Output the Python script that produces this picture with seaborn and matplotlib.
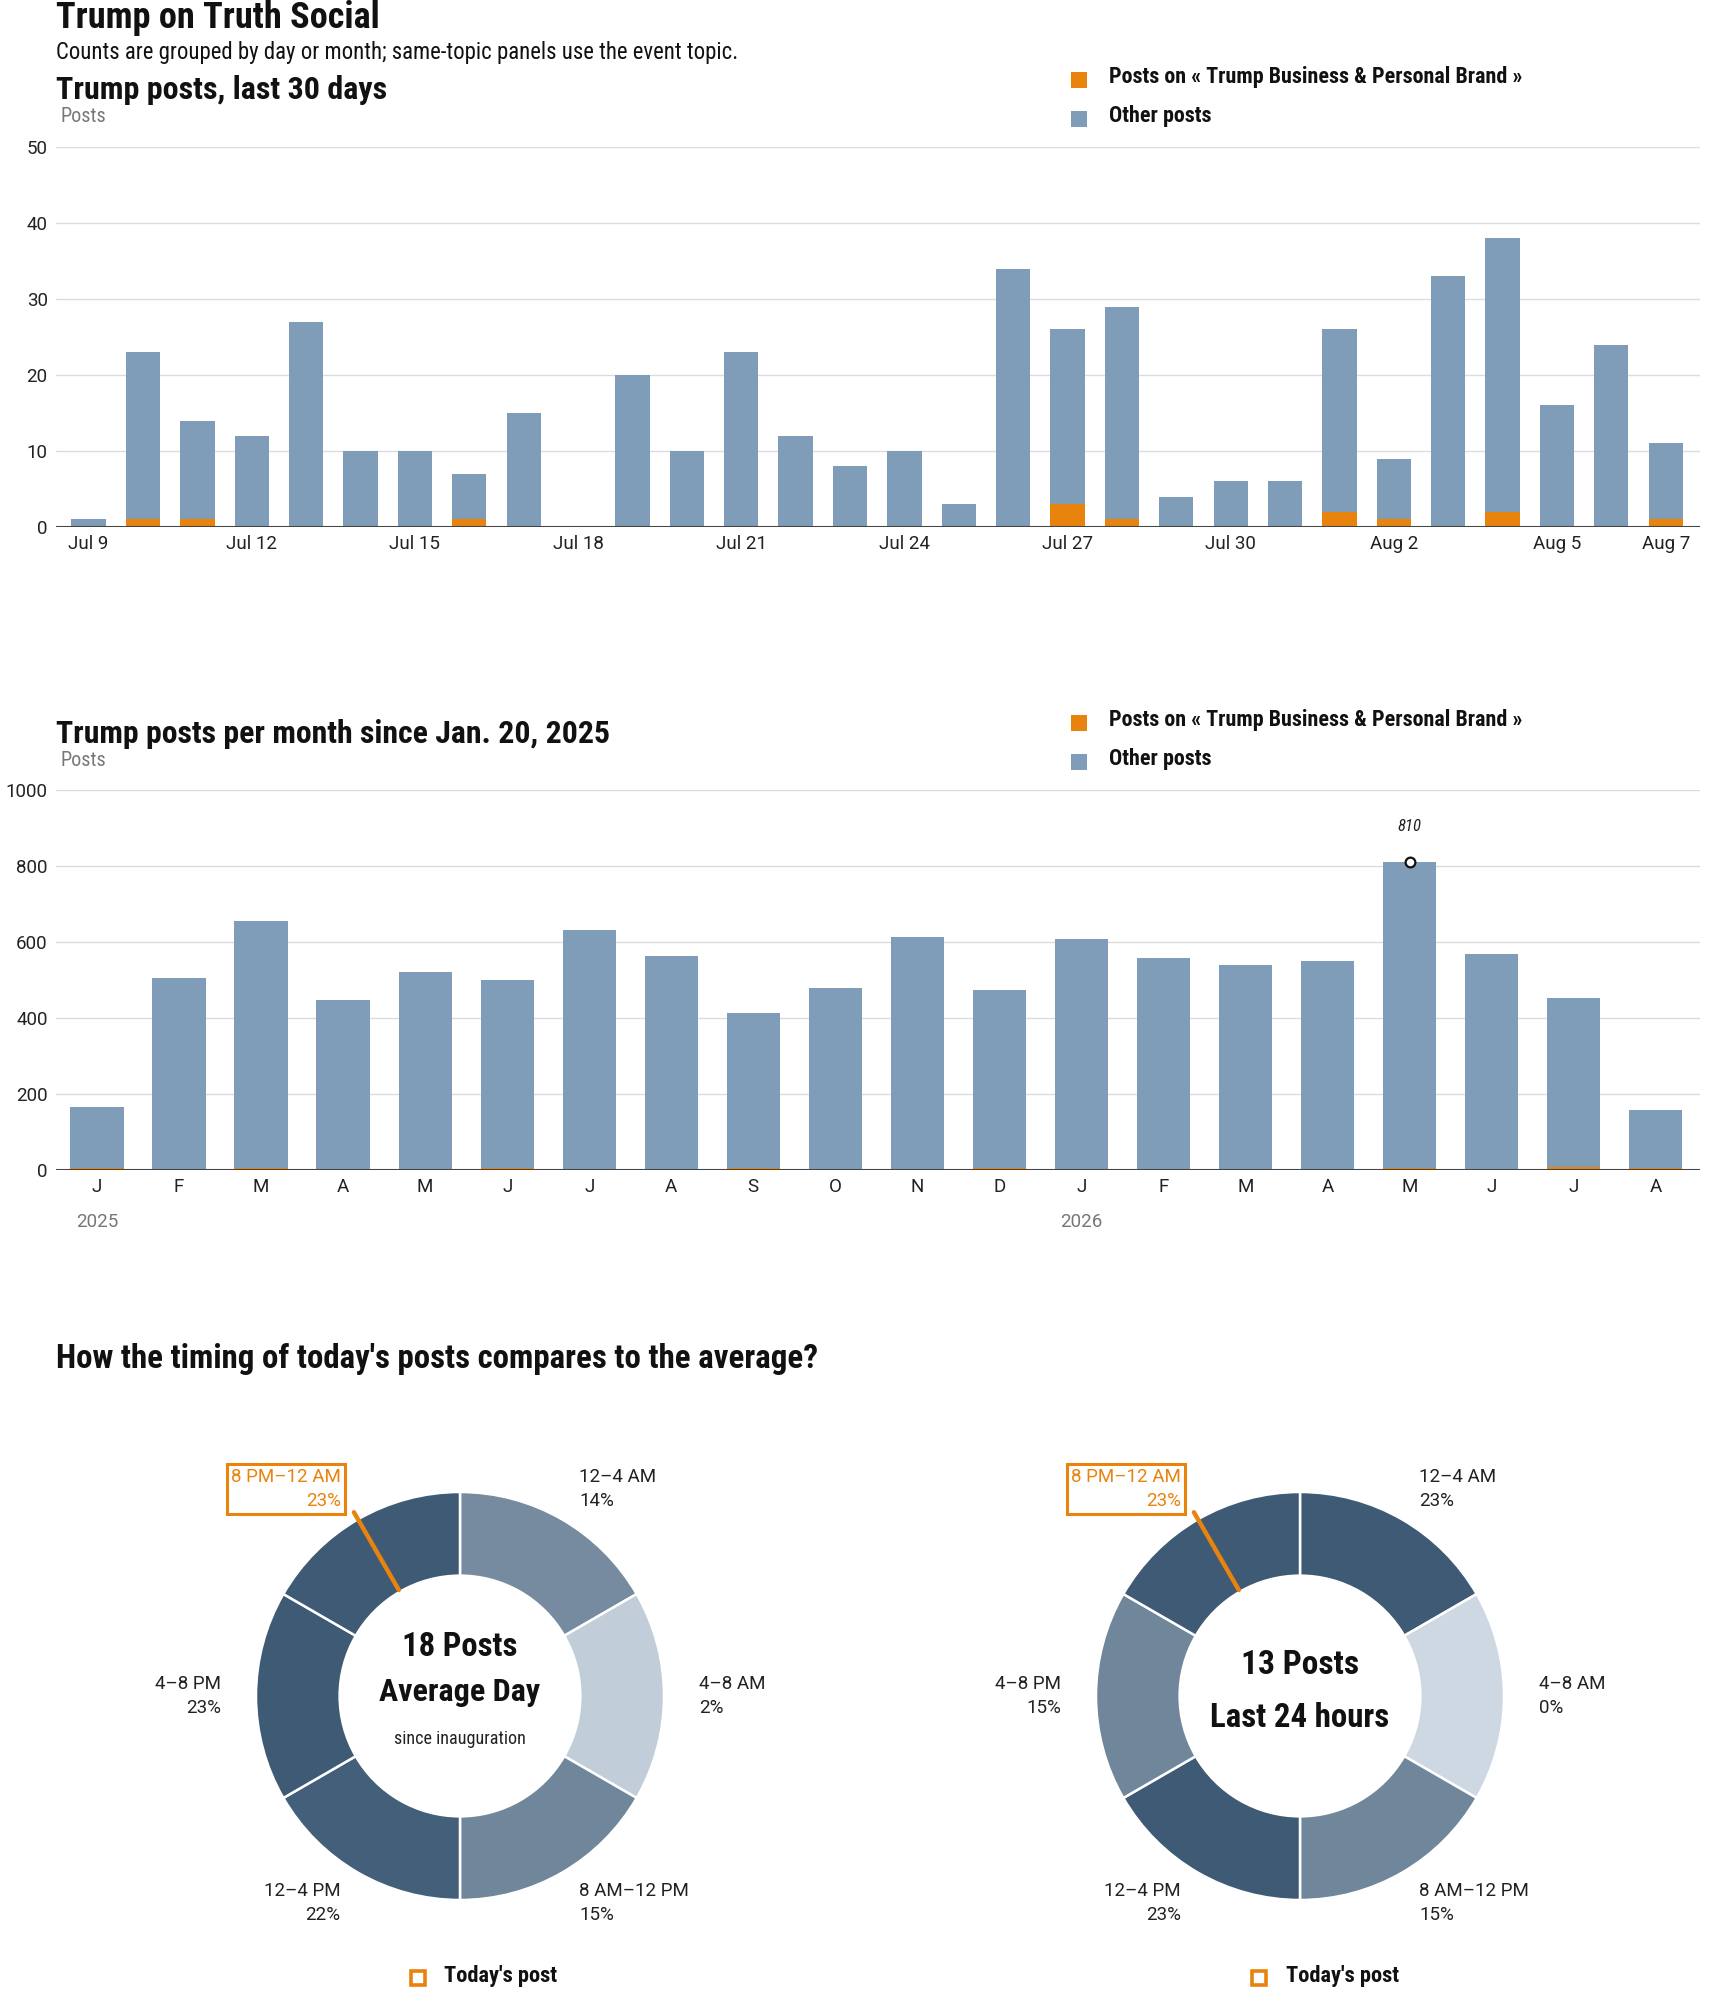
import numpy as np
import pandas as pd
import matplotlib
matplotlib.use("Agg")
import matplotlib.pyplot as plt
import matplotlib.transforms as mtransforms
from matplotlib.lines import Line2D
from matplotlib.colors import LinearSegmentedColormap, Normalize
from matplotlib import font_manager as fm
import seaborn as sns

# ---------------- data ----------------
days = ["Jul 9", "Jul 10", "Jul 11", "Jul 12", "Jul 13", "Jul 14", "Jul 15", "Jul 16",
        "Jul 17", "Jul 18", "Jul 19", "Jul 20", "Jul 21", "Jul 22", "Jul 23", "Jul 24",
        "Jul 25", "Jul 26", "Jul 27", "Jul 28", "Jul 29", "Jul 30", "Jul 31", "Aug 1",
        "Aug 2", "Aug 3", "Aug 4", "Aug 5", "Aug 6", "Aug 7"]
daily_topic = [0, 1, 1, 0, 0, 0, 0, 1, 0, 0, 0, 0, 0, 0, 0, 0, 0, 0, 3, 1, 0, 0, 0, 2, 1, 0, 2, 0, 0, 1]
daily_other = [1, 22, 13, 12, 27, 10, 10, 6, 15, 0, 20, 10, 23, 12, 8, 10, 3, 34, 23, 28, 4, 6, 6, 24, 8, 33, 36, 16, 24, 10]
day_ticks = ["Jul 9", "Jul 12", "Jul 15", "Jul 18", "Jul 21", "Jul 24", "Jul 27", "Jul 30", "Aug 2", "Aug 5", "Aug 7"]

months = ["2025-01", "2025-02", "2025-03", "2025-04", "2025-05", "2025-06", "2025-07", "2025-08",
          "2025-09", "2025-10", "2025-11", "2025-12", "2026-01", "2026-02", "2026-03", "2026-04",
          "2026-05", "2026-06", "2026-07", "2026-08"]
month_letters = ["J", "F", "M", "A", "M", "J", "J", "A", "S", "O", "N", "D",
                 "J", "F", "M", "A", "M", "J", "J", "A"]
monthly_topic = [4, 1, 4, 1, 1, 4, 1, 1, 4, 0, 1, 4, 1, 1, 1, 2, 4, 1, 9, 6]
monthly_other = [161, 503, 650, 446, 519, 496, 630, 561, 408, 478, 611, 469, 606, 556, 538, 547, 806, 567, 443, 152]
year_labels = {"2025-01": "2025", "2026-01": "2026"}

slots = ["12–4 AM", "4–8 AM", "8 AM–12 PM", "12–4 PM", "4–8 PM", "8 PM–12 AM"]
slot_hours = [4, 4, 4, 4, 4, 4]
avg_pct = [14, 2, 15, 22, 23, 23]
today_pct = [23, 0, 15, 23, 15, 23]
avg_posts = 18
today_posts = 13
todays_post_hour = 22

# ---------------- style ----------------
BLUE = "#7f9db9"
ORANGE = "#e8830e"
DARK = "#111111"
GRAY = "#777777"

sns.set_theme(style="white")
avail = {f.name for f in fm.fontManager.ttflist}
HEAD = [f for f in ["Roboto Condensed", "Liberation Sans Narrow", "Roboto"] if f in avail] + ["DejaVu Sans"]
BODY = [f for f in ["Roboto"] if f in avail] + ["DejaVu Sans"]
plt.rcParams["font.family"] = BODY
HEAVY = "black"

W, H, DPI = 1710, 1993, 100
fig = plt.figure(figsize=(W / DPI, H / DPI), dpi=DPI)
fig.patch.set_facecolor("white")
REN = fig.canvas.get_renderer()


def fit(t, target_px):
    w = t.get_window_extent(REN).width
    if w > 0:
        t.set_fontsize(t.get_fontsize() * target_px / w)
    return t


def rect(l, t, r, b):
    return [l / W, 1 - b / H, (r - l) / W, (b - t) / H]


def ftxt(x, y, s, width=None, **kw):
    kw.setdefault("va", "center")
    kw.setdefault("ha", "left")
    kw.setdefault("family", HEAD)
    t = fig.text(x / W, 1 - y / H, s, **kw)
    if width:
        fit(t, width)
    return t


def fsquare(x, y, face, edge, ms=11, mew=0):
    fig.add_artist(Line2D([x / W], [1 - y / H], marker="s", markersize=ms,
                          markerfacecolor=face, markeredgecolor=edge, markeredgewidth=mew,
                          linestyle="none", transform=fig.transFigure))


def legend(y0):
    fsquare(1079, y0 + 3, ORANGE, ORANGE)
    t = ftxt(1109, y0, "Posts on « Trump Business & Personal Brand »", width=414, fontsize=14,
             fontweight="bold", color=DARK)
    fsquare(1079, y0 + 42, BLUE, BLUE)
    ftxt(1109, y0 + 39, "Other posts", fontsize=t.get_fontsize(), fontweight="bold", color=DARK)


def style_bar_axis(ax):
    sns.despine(ax=ax, left=True, bottom=True)
    ax.yaxis.grid(True, color="#dcdcdc", linewidth=1.0)
    ax.xaxis.grid(False)
    ax.set_axisbelow(True)
    ax.axhline(0, color="#444444", linewidth=2.2, zorder=5)
    ax.tick_params(axis="both", length=0, labelsize=13.5, labelcolor="#222222")
    ax.tick_params(axis="y", pad=6)
    ax.tick_params(axis="x", pad=6)
    ax.set_xlabel("")
    ax.set_ylabel("")


# ---------------- header ----------------
ftxt(56, 18, "Trump on Truth Social", width=323, fontsize=22, fontweight=HEAVY, color=DARK)
ftxt(56, 52, "Counts are grouped by day or month; same-topic panels use the event topic.",
     width=684, fontsize=15, color=DARK)

# ---------------- chart 1: last 30 days ----------------
ftxt(56, 90, "Trump posts, last 30 days", width=331, fontsize=19, fontweight=HEAVY, color=DARK)
ftxt(60, 117, "Posts", width=46, fontsize=12.5, color=GRAY)
legend(77)

df_d = pd.DataFrame({"day": days, "topic": daily_topic, "other": daily_other})
df_d["total"] = df_d["topic"] + df_d["other"]
ax1 = fig.add_axes(rect(56, 147, 1700, 527))
sns.barplot(data=df_d, x="day", y="total", color=BLUE, saturation=1, width=0.63,
            errorbar=None, linewidth=0, ax=ax1)
sns.barplot(data=df_d, x="day", y="topic", color=ORANGE, saturation=1, width=0.63,
            errorbar=None, linewidth=0, ax=ax1)
ax1.set_ylim(0, 50)
ax1.set_yticks([0, 10, 20, 30, 40, 50])
ax1.set_xticks([days.index(d) for d in day_ticks])
ax1.set_xticklabels(day_ticks)
ax1.set_xlim(-0.6, len(days) - 1 + 0.63)
style_bar_axis(ax1)

# ---------------- chart 2: per month ----------------
ftxt(56, 734, "Trump posts per month since Jan. 20, 2025", width=553, fontsize=19,
     fontweight=HEAVY, color=DARK)
ftxt(60, 761, "Posts", width=46, fontsize=12.5, color=GRAY)
legend(720)

df_m = pd.DataFrame({"month": months, "topic": monthly_topic, "other": monthly_other})
df_m["total"] = df_m["topic"] + df_m["other"]
ax2 = fig.add_axes(rect(56, 790, 1700, 1170))
sns.barplot(data=df_m, x="month", y="total", color=BLUE, saturation=1, width=0.65,
            errorbar=None, linewidth=0, ax=ax2)
sns.barplot(data=df_m, x="month", y="topic", color=ORANGE, saturation=1, width=0.65,
            errorbar=None, linewidth=0, ax=ax2)
ax2.set_ylim(0, 1000)
ax2.set_yticks([0, 200, 400, 600, 800, 1000])
ax2.set_xticks(range(len(months)))
ax2.set_xticklabels(month_letters)
ax2.set_xlim(-0.5, len(months) - 1 + 0.54)
style_bar_axis(ax2)

trans = mtransforms.blended_transform_factory(ax2.transData, ax2.transAxes)
for key, lab in year_labels.items():
    ax2.text(months.index(key), -0.137, lab, transform=trans, ha="center", va="center",
             fontsize=13.5, color=GRAY)

imax = int(np.argmax(df_m["total"].values))
vmax = int(df_m["total"].values[imax])
ax2.plot([imax], [vmax], marker="o", markersize=7, markerfacecolor="white",
         markeredgecolor="#111111", markeredgewidth=1.6, linestyle="none", zorder=6, clip_on=False)
ax2.annotate(f"{vmax}", xy=(imax, vmax), xytext=(0, 26), textcoords="offset points",
             ha="center", va="center", fontsize=12, fontstyle="italic", color="#222222",
             family=HEAD)

# ---------------- chart 3: donuts ----------------
ftxt(56, 1359, "How the timing of today's posts compares to the average?", width=763,
     fontsize=19, fontweight=HEAVY, color=DARK)

cmap = LinearSegmentedColormap.from_list("slate", ["#cdd8e2", "#3e5a75"])
norm = Normalize(vmin=0, vmax=23)
R_PX = 204
hl = todays_post_hour // 4
ang = np.deg2rad(todays_post_hour / 24 * 360)


def donut(cx, cy, pcts, center_lines):
    half = 1.25 * R_PX
    ax = fig.add_axes(rect(cx - half, cy - half, cx + half, cy + half))
    colors = [cmap(norm(p)) for p in pcts]
    ax.pie(slot_hours, startangle=90, counterclock=False, colors=colors, radius=1,
           wedgeprops=dict(width=0.41, edgecolor="white", linewidth=1.8))
    ax.set_xlim(-1.25, 1.25)
    ax.set_ylim(-1.25, 1.25)
    ax.set_aspect("equal")
    ax.axis("off")
    for i, (lab, p) in enumerate(zip(slots, pcts)):
        th = np.deg2rad(30 + 60 * i)
        x, y = 1.17 * np.sin(th), 1.17 * np.cos(th)
        ha = "left" if x > 0 else "right"
        if i == hl:
            ax.text(x, y, f"{lab}\n{p}%", ha=ha, va="center", multialignment="right",
                    fontsize=13.5, color=ORANGE, linespacing=1.4,
                    bbox=dict(boxstyle="square,pad=0.22", facecolor="white",
                              edgecolor=ORANGE, linewidth=2.2))
        else:
            ax.text(x, y, f"{lab}\n{p}%", ha=ha, va="center", multialignment=ha,
                    fontsize=13.5, color="#222222", linespacing=1.4)
    ax.plot([0.6 * np.sin(ang), 1.04 * np.sin(ang)], [0.6 * np.cos(ang), 1.04 * np.cos(ang)],
            color=ORANGE, linewidth=3.2, solid_capstyle="round", zorder=5, clip_on=False)
    for (y, s, wpx, kw) in center_lines:
        t = ax.text(0, y, s, ha="center", va="center", family=HEAD, **kw)
        fit(t, wpx)
    return ax


bold_c = dict(fontsize=19, fontweight=HEAVY, color=DARK)
donut(460, 1696, avg_pct, [(0.24, f"{avg_posts} Posts", 115, bold_c),
                           (0.02, "Average Day", 161, bold_c),
                           (-0.21, "since inauguration", 132, dict(fontsize=11.5, color="#222222"))])
donut(1300, 1696, today_pct, [(0.15, f"{today_posts} Posts", 118, bold_c),
                              (-0.11, "Last 24 hours", 179, bold_c)])

for sx, tx in [(418, 444), (1259, 1286)]:
    fsquare(sx, 1978, "white", ORANGE, ms=10, mew=2.6)
    ftxt(tx, 1976, "Today's post", width=113, fontsize=12.5, fontweight=HEAVY, color=DARK)

fig.savefig("out.png", dpi=DPI, facecolor="white")
